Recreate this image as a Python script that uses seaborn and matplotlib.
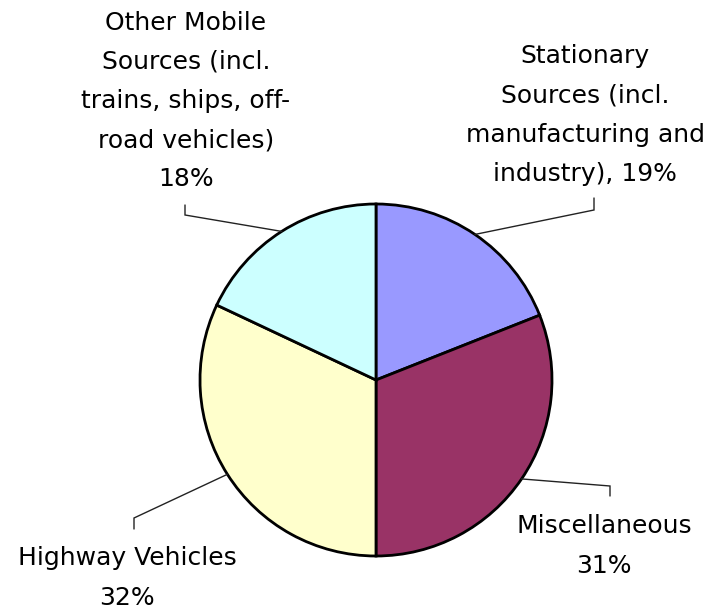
import numpy as np
import matplotlib
matplotlib.use("Agg")
import matplotlib.pyplot as plt
import seaborn as sns

categories = ["Stationary\nSources (incl.\nmanufacturing and\nindustry), 19%",
              "Miscellaneous\n31%",
              "Highway Vehicles\n32%",
              "Other Mobile\nSources (incl.\ntrains, ships, off-\nroad vehicles)\n18%"]
values = [19, 31, 32, 18]
colors = ["#9999FF", "#993366", "#FFFFCC", "#CCFFFF"]

sns.set_theme(style="white")
plt.rcParams['font.family'] = ['DejaVu Sans']

W, H = 711, 611
fig = plt.figure(figsize=(W / 100, H / 100), dpi=100)
ax = fig.add_axes([0, 0, 1, 1])

cx, cy, r = 376, H - 380, 176
wedges, _ = ax.pie(values, colors=colors, startangle=90, counterclock=False,
                   center=(cx, cy), radius=r, frame=True,
                   wedgeprops=dict(edgecolor='black', linewidth=2))
ax.set_xlim(0, W)
ax.set_ylim(0, H)
ax.set_aspect('equal')
ax.axis('off')

# label layout (pixel coords, top-down)
elbows = [(594, 210, 198), (610, 486, 496), (134, 518, 529), (185, 215, 205)]
label_pos = [(585, 115), (604, 546), (127, 578), (186, 101)]

for w, (ex, ey, ey2), (lx, ly), lab in zip(wedges, elbows, label_pos, categories):
    mid = np.deg2rad((w.theta1 + w.theta2) / 2)
    ax_x = cx + r * np.cos(mid)
    ax_y = cy + r * np.sin(mid)
    ax.plot([ax_x, ex, ex], [ax_y, H - ey, H - ey2], color='#222222', lw=1.0,
            solid_joinstyle='miter')
    ax.text(lx, H - ly, lab, ha='center', va='center', multialignment='center',
            fontsize=18, linespacing=1.8, color='black')

fig.savefig("out.png", dpi=100)
